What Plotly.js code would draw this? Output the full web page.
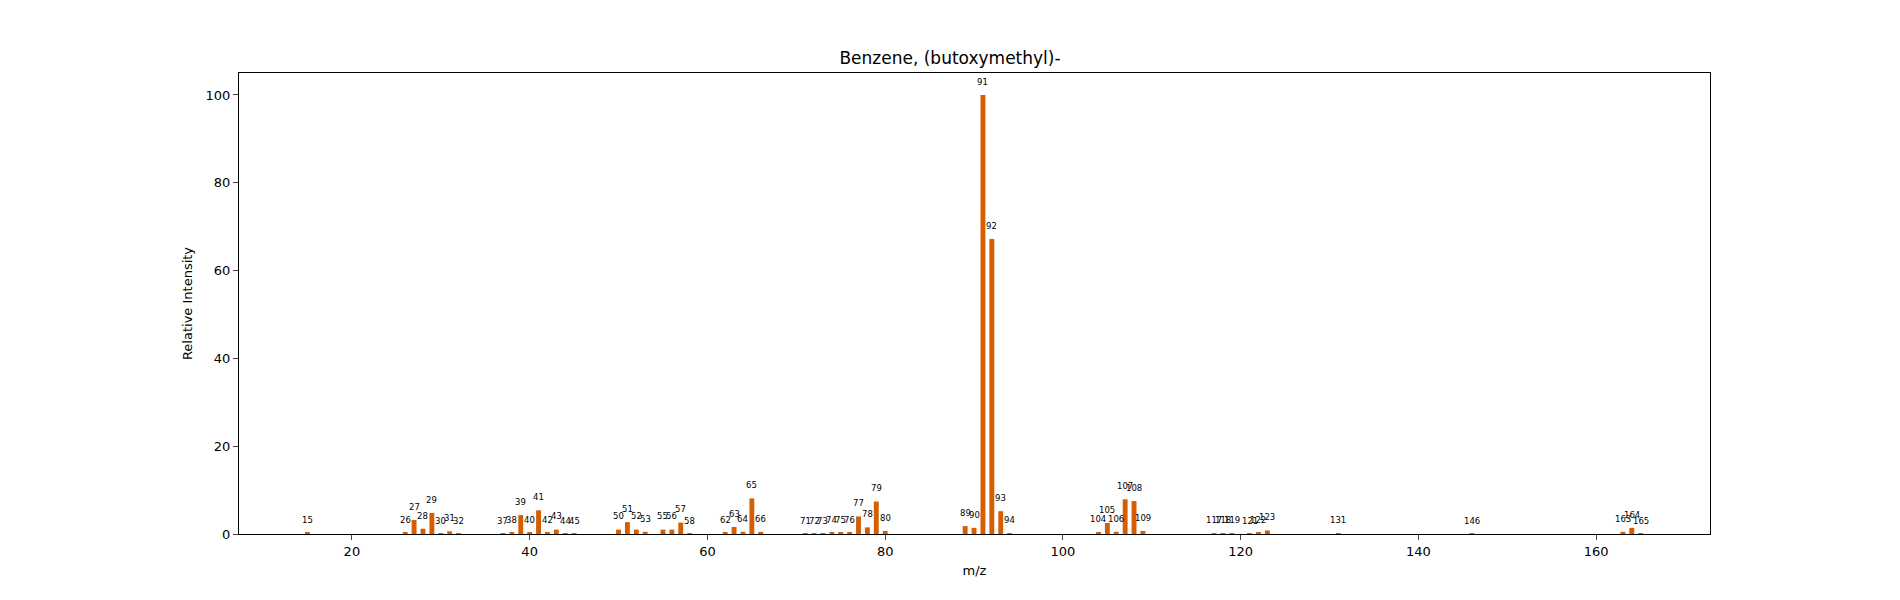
<!DOCTYPE html>
<html><head><meta charset="utf-8">
<script src="https://cdn.plot.ly/plotly-3.0.1.min.js"></script>
<style>body{margin:0;background:#fff}</style></head>
<body><div id="chart" style="width:1900px;height:600px"></div>
<script>
const mz = [15,26,27,28,29,30,31,32,37,38,39,40,41,42,43,44,45,50,51,52,53,55,56,57,58,62,63,64,65,66,71,72,73,74,75,76,77,78,79,80,89,90,91,92,93,94,104,105,106,107,108,109,117,118,119,121,122,123,131,146,163,164,165];
const intensity = [0.3,0.3,3.2,1.2,4.8,0.05,0.6,0.05,0.05,0.3,4.3,0.3,5.4,0.3,1.0,0.03,0.03,1.0,2.7,1.0,0.5,1.0,1.0,2.6,0.05,0.3,1.6,0.5,8.1,0.5,0.03,0.03,0.03,0.3,0.3,0.3,4.0,1.5,7.4,0.7,1.8,1.4,100,67.2,5.2,0.2,0.4,2.5,0.5,7.9,7.5,0.7,0.2,0.2,0.2,0.05,0.3,0.8,0.2,0.03,0.5,1.4,0.03];
const title = "Benzene, (butoxymethyl)-";
const font = {family:"DejaVu Sans", color:"#000"};
const annotations = mz.map((m,i)=>({x:m, y:intensity[i]+3, text:String(m), showarrow:false,
  xref:'x', yref:'y', font:{family:"DejaVu Sans", size:8.5, color:"#000"}}));
Plotly.newPlot('chart', [{type:'bar', x:mz, y:intensity, width:0.55, marker:{color:'#d55e00'}, hoverinfo:'x+y'}], {
  width:1900, height:600, showlegend:false, paper_bgcolor:'#fff', plot_bgcolor:'#fff',
  margin:{l:239, r:190, t:73, b:66},
  title:{text:title, font:{...font, size:17}, x:0.5, xanchor:'center', y:0.903, yanchor:'middle'},
  xaxis:{range:[7.3,172.8], tickvals:[20,40,60,80,100,120,140,160], ticks:'outside', ticklen:5, showgrid:false, zeroline:false,
    showline:true, mirror:true, linecolor:'#000', linewidth:1, tickfont:{...font, size:13},
    title:{text:'m/z', font:{...font, size:13}, standoff:8}},
  yaxis:{range:[0,105], tickvals:[0,20,40,60,80,100], ticks:'outside', ticklen:5, showgrid:false, zeroline:false,
    showline:true, mirror:true, linecolor:'#000', linewidth:1, tickfont:{...font, size:13},
    title:{text:'Relative Intensity', font:{...font, size:13}, standoff:10}},
  annotations
}, {displayModeBar:false});
</script></body></html>
